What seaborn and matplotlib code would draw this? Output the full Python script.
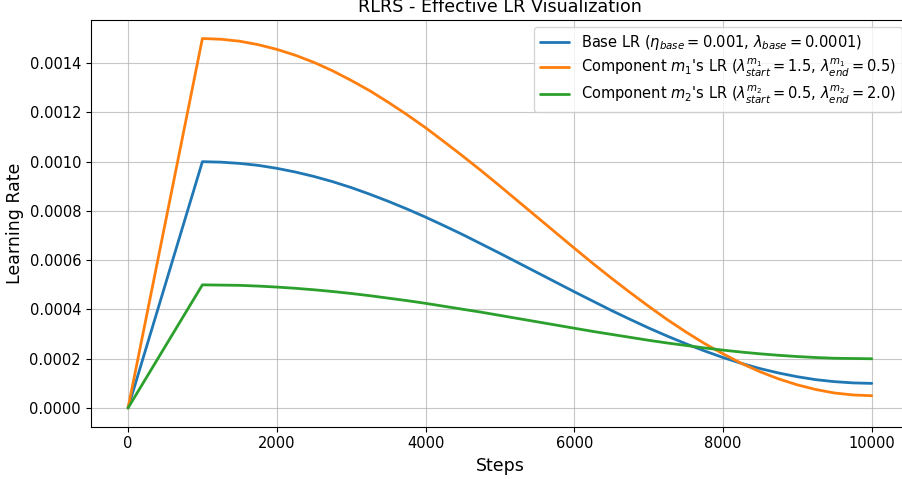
import numpy as np
import pandas as pd
import matplotlib
matplotlib.use("Agg")
import matplotlib.pyplot as plt
import seaborn as sns

steps = [0, 500, 1000, 1250, 1500, 1750, 2000, 2250, 2500, 2750, 3000, 3250,
         3500, 3750, 4000, 4250, 4500, 4750, 5000, 5250, 5500, 5750, 6000,
         6250, 6500, 6750, 7000, 7250, 7500, 7750, 8000, 8250, 8500, 8750,
         9000, 9250, 9500, 9750, 10000]
base_lr = [0.0, 0.0005, 0.001, 0.000998, 0.000993, 0.000985, 0.000973, 0.000958,
           0.000940, 0.000919, 0.000895, 0.000868, 0.000839, 0.000808, 0.000775,
           0.000740, 0.000704, 0.000666, 0.000628, 0.000589, 0.00055, 0.000511,
           0.000472, 0.000434, 0.000396, 0.000360, 0.000325, 0.000292, 0.000261,
           0.000232, 0.000205, 0.000181, 0.000160, 0.000142, 0.000127, 0.000115,
           0.000107, 0.000102, 0.0001]
m1_lr = [0.0, 0.00075, 0.0015, 0.001497, 0.001489, 0.001475, 0.001456, 0.001432,
         0.001403, 0.001369, 0.001330, 0.001288, 0.001241, 0.001191, 0.001138,
         0.001081, 0.001023, 0.000963, 0.000901, 0.000838, 0.000775, 0.000712,
         0.000649, 0.000587, 0.000527, 0.000469, 0.000413, 0.000359, 0.000309,
         0.000262, 0.000220, 0.000181, 0.000147, 0.000118, 0.000094, 0.000075,
         0.000061, 0.000053, 0.00005]
m2_lr = [0.0, 0.00025, 0.0005, 0.000499, 0.000498, 0.000495, 0.000491, 0.000486,
         0.000480, 0.000473, 0.000465, 0.000456, 0.000446, 0.000436, 0.000425,
         0.000413, 0.000401, 0.000389, 0.000376, 0.000363, 0.00035, 0.000337,
         0.000324, 0.000311, 0.000299, 0.000287, 0.000275, 0.000264, 0.000254,
         0.000244, 0.000235, 0.000227, 0.000220, 0.000214, 0.000209, 0.000205,
         0.000202, 0.000201, 0.0002]
labels = [
    r"Base LR ($\eta_{base}=0.001$, $\lambda_{base}=0.0001$)",
    r"Component $m_1$'s LR ($\lambda^{m_1}_{start}=1.5$, $\lambda^{m_1}_{end}=0.5$)",
    r"Component $m_2$'s LR ($\lambda^{m_2}_{start}=0.5$, $\lambda^{m_2}_{end}=2.0$)",
]
colors = ["#1f77b4", "#ff7f0e", "#2ca02c"]

df = pd.concat([
    pd.DataFrame({"Steps": steps, "lr": vals, "series": lab})
    for vals, lab in zip([base_lr, m1_lr, m2_lr], labels)
])

sns.set_style("whitegrid", {"grid.color": "#b0b0b0", "axes.edgecolor": "black"})
plt.rcParams['font.family'] = ['DejaVu Sans']

fig = plt.figure(figsize=(9.02, 4.79), dpi=100)
ax = fig.add_axes([0.1007, 0.1096, 0.907, 0.8486])
sns.lineplot(data=df, x="Steps", y="lr", hue="series", palette=colors,
             linewidth=2, ax=ax)
ax.grid(True, color="#b0b0b0", linewidth=0.8, alpha=0.7)
for s in ax.spines.values():
    s.set_color("black")
    s.set_linewidth(0.8)
ax.tick_params(axis="both", labelsize=10.5, length=3.5, width=0.8, color="black",
               labelcolor="black", left=True, bottom=True)
ax.set_xlabel("Steps", fontsize=12.5, color="black")
ax.set_ylabel("Learning Rate", fontsize=12.5, color="black")
ax.set_title("RLRS - Effective LR Visualization", fontsize=12.6, color="black")
ax.yaxis.set_major_formatter(matplotlib.ticker.FormatStrFormatter("%.4f"))
ax.set_xlim(-500, 10500)
ax.set_ylim(-0.000075, 0.001575)
leg = ax.legend(loc="upper right", fontsize=10.5, frameon=True, labelspacing=0.3)
leg.set_title(None)
for t in leg.get_texts():
    t.set_color("black")
fig.savefig("out.png", dpi=100)
